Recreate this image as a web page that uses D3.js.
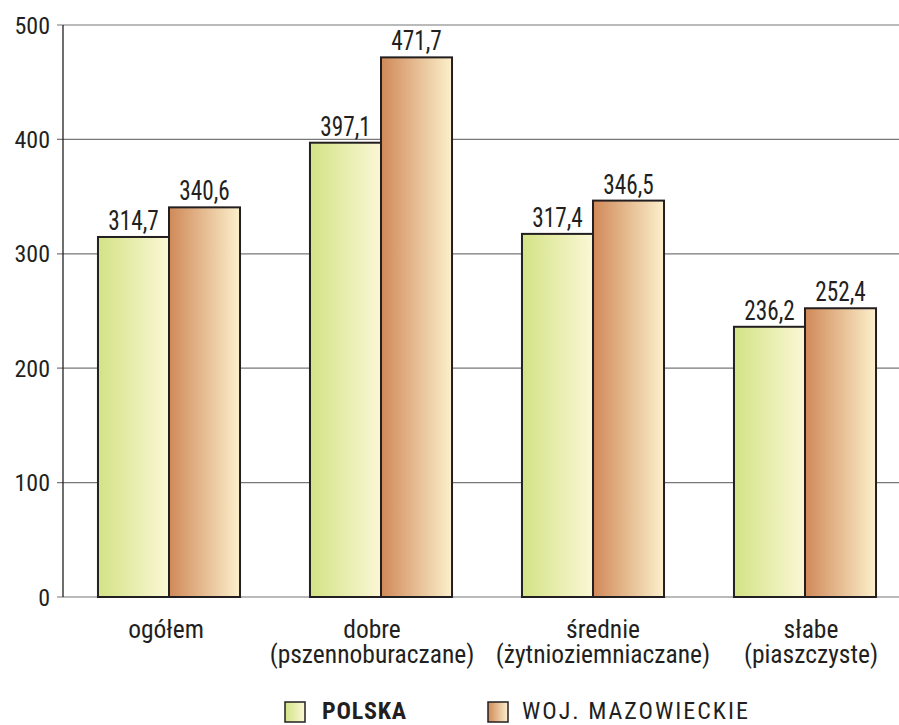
<!DOCTYPE html>
<html><head><meta charset="utf-8">
<script src="https://cdn.jsdelivr.net/npm/d3@7"></script>
<style>
body{margin:0;background:#fff;}
text{font-family:"Roboto Condensed","Liberation Sans Narrow","DejaVu Sans Condensed",sans-serif;fill:#231f20;}
</style></head><body>
<svg id="c" width="899" height="725"></svg>
<script>
const categories = [["ogółem"],["dobre","(pszennoburaczane)"],["średnie","(żytnioziemniaczane)"],["słabe","(piaszczyste)"]];
const seriesNames = ["POLSKA","WOJ. MAZOWIECKIE"];
const polska = [314.7, 397.1, 317.4, 236.2];
const mazowieckie = [340.6, 471.7, 346.5, 252.4];
const yTicks = [0,100,200,300,400,500];

(function(){
const svg = d3.select("#c");
const defs = svg.append("defs");
const grads = [["gP","#d3e385","#fbf7d6"],["gM","#d08958","#fcf0cc"]];
grads.forEach(([id,a,b])=>{
  const g = defs.append("linearGradient").attr("id",id).attr("x1","0").attr("x2","1").attr("y1","0").attr("y2","0");
  g.append("stop").attr("offset","0").attr("stop-color",a);
  g.append("stop").attr("offset","1").attr("stop-color",b);
});

const mL = 63, mR = 911, mT = 25, mB = 597;
const y = d3.scaleLinear().domain([0,500]).range([mB, mT]);
const x0 = d3.scaleBand().domain(d3.range(categories.length)).range([mL,mR]).paddingInner(0.33).paddingOuter(0.165);
const x1 = d3.scaleBand().domain([0,1]).range([0,x0.bandwidth()]);

svg.append("g").selectAll("line").data(yTicks).join("line")
  .attr("x1",57).attr("x2",899).attr("y1",d=>y(d)).attr("y2",d=>y(d))
  .attr("stroke","#777").attr("stroke-width",1.2);
svg.append("line").attr("x1",mL).attr("x2",mL).attr("y1",mT).attr("y2",mB).attr("stroke","#231f20").attr("stroke-width",1.3);
svg.append("g").selectAll("text").data(yTicks).join("text")
  .attr("x",50).attr("y",d=>y(d)+8.5).attr("text-anchor","end").attr("font-size",24).text(d=>d);

const data = categories.map((c,i)=>({i, vals:[polska[i], mazowieckie[i]]}));
const g = svg.append("g").selectAll("g").data(data).join("g").attr("transform",d=>`translate(${x0(d.i)},0)`);
g.selectAll("rect").data(d=>d.vals.map((v,k)=>({v,k}))).join("rect")
  .attr("x",d=>x1(d.k)).attr("width",x1.bandwidth()).attr("y",d=>y(d.v)).attr("height",d=>y(0)-y(d.v))
  .attr("fill",d=>d.k===0?"url(#gP)":"url(#gM)").attr("stroke","#231f20").attr("stroke-width",2);
g.selectAll("text.v").data(d=>d.vals.map((v,k)=>({v,k}))).join("text").attr("class","v")
  .attr("transform",d=>`translate(${x1(d.k)+x1.bandwidth()/2},${y(d.v)-7}) scale(0.86,1)`)
  .attr("text-anchor","middle").attr("font-size",27)
  .text(d=>d3.format(".1f")(d.v).replace(".",","));

const shift = [-3,-9,10,6];
const cl = svg.append("g").selectAll("text").data(categories).join("text")
  .attr("x",(d,i)=>x0(i)+x0.bandwidth()/2+shift[i]).attr("y",638).attr("text-anchor","middle").attr("font-size",25.5);
cl.selectAll("tspan").data(d=>d).join("tspan").attr("x",function(){return this.parentNode.getAttribute("x");})
  .attr("dy",(d,j)=>j===0?0:25).text(d=>d);

const leg = [{x:285,tx:322,bold:true,ls:0.8},{x:488,tx:522,bold:false,ls:2}];
const lg = svg.append("g").selectAll("g").data(seriesNames).join("g");
lg.append("rect").attr("x",(d,i)=>leg[i].x).attr("y",702).attr("width",20).attr("height",20)
  .attr("fill",(d,i)=>i===0?"url(#gP)":"url(#gM)").attr("stroke","#231f20").attr("stroke-width",1.5);
lg.append("text").attr("x",(d,i)=>leg[i].tx).attr("y",719).attr("font-size",24)
  .attr("letter-spacing",(d,i)=>leg[i].ls)
  .attr("font-weight",(d,i)=>leg[i].bold?"bold":"normal").text(d=>d);
})();
</script></body></html>
